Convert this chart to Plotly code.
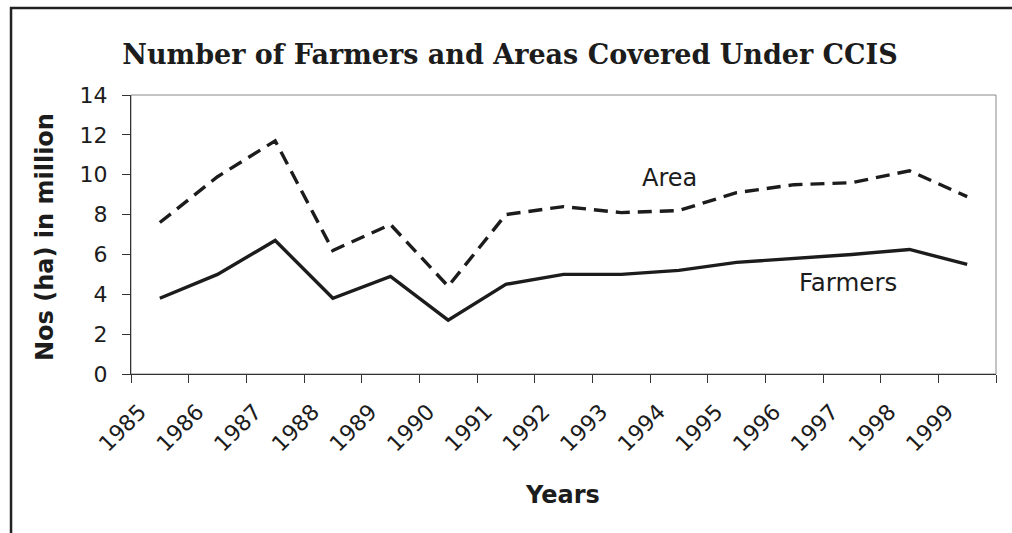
import plotly.graph_objects as go

years = ["1985", "1986", "1987", "1988", "1989", "1990", "1991", "1992",
         "1993", "1994", "1995", "1996", "1997", "1998", "1999"]
area = [7.6, 9.9, 11.7, 6.2, 7.5, 4.4, 8.0, 8.4, 8.1, 8.2, 9.1, 9.5, 9.6, 10.2, 8.9]
farmers = [3.8, 5.0, 6.7, 3.8, 4.9, 2.7, 4.5, 5.0, 5.0, 5.2, 5.6, 5.8, 6.0, 6.25, 5.5]
y_ticks = [0, 2, 4, 6, 8, 10, 12, 14]

INK = "#1c1c1c"

fig = go.Figure()
fig.add_trace(go.Scatter(x=years, y=area, mode="lines", name="Area",
                         line=dict(color=INK, width=3.4, dash="14px,8px")))
fig.add_trace(go.Scatter(x=years, y=farmers, mode="lines", name="Farmers",
                         line=dict(color=INK, width=3.4)))

fig.update_layout(
    width=1012, height=533,
    margin=dict(l=131, r=16, t=95, b=159),
    paper_bgcolor="white", plot_bgcolor="white",
    showlegend=False,
    font=dict(family="DejaVu Sans", color=INK),
    title=dict(text="<b>Number of Farmers and Areas Covered Under CCIS</b>",
               font=dict(family="DejaVu Serif", size=27, color=INK),
               x=510 / 1012, xanchor="center", xref="container",
               y=1 - 55 / 533, yanchor="middle", yref="container"),
)

fig.update_xaxes(
    type="category", showgrid=False, showline=True, linecolor="#333", linewidth=1.3,
    ticks="outside", ticklen=8, tickcolor="#333", tickwidth=1.3, tickson="boundaries",
    tickangle=-45, tickfont=dict(size=22, color=INK), ticklabelshift=-20,
    ticklabelstandoff=15,
    range=[-0.5, len(years) - 0.5],
)
fig.update_yaxes(
    range=[0, 14], tickvals=y_ticks, showgrid=False, showline=True, linecolor="#333",
    linewidth=1.3, ticks="outside", ticklen=8, tickcolor="#333", tickwidth=1.3,
    tickfont=dict(size=22, color=INK), zeroline=False, ticklabelstandoff=10,
)

# plot-area frame (thin gray top/right)
fig.add_shape(type="rect", xref="x domain", yref="y domain", x0=0, x1=1, y0=0, y1=1,
              line=dict(color="#888", width=1), layer="below")
# outer figure frame (left/top edges visible)
fig.add_shape(type="rect", xref="paper", yref="paper", x0=-0.1387, x1=1.2, y0=-0.8, y1=1.3118,
              line=dict(color="#222", width=2.5), layer="above")

ann = dict(showarrow=False, xanchor="center", yanchor="middle")
fig.add_annotation(text="Area", xref="paper", yref="y", x=(669 - 131) / 865, y=9.83,
                   font=dict(size=24, color=INK), **ann)
fig.add_annotation(text="Farmers", xref="paper", yref="y", x=(848 - 131) / 865, y=4.57,
                   font=dict(size=24.5, color=INK), **ann)
fig.add_annotation(text="<b>Years</b>", xref="paper", yref="paper", x=(562 - 131) / 865,
                   y=(374 - 495) / 279, font=dict(size=24, color=INK), **ann)
fig.add_annotation(text="<b>Nos (ha) in million</b>", xref="paper", yref="paper",
                   x=(45 - 131) / 865, y=(374 - 237) / 279, textangle=-90,
                   font=dict(size=24, color=INK), **ann)

fig.write_html("out.html")
